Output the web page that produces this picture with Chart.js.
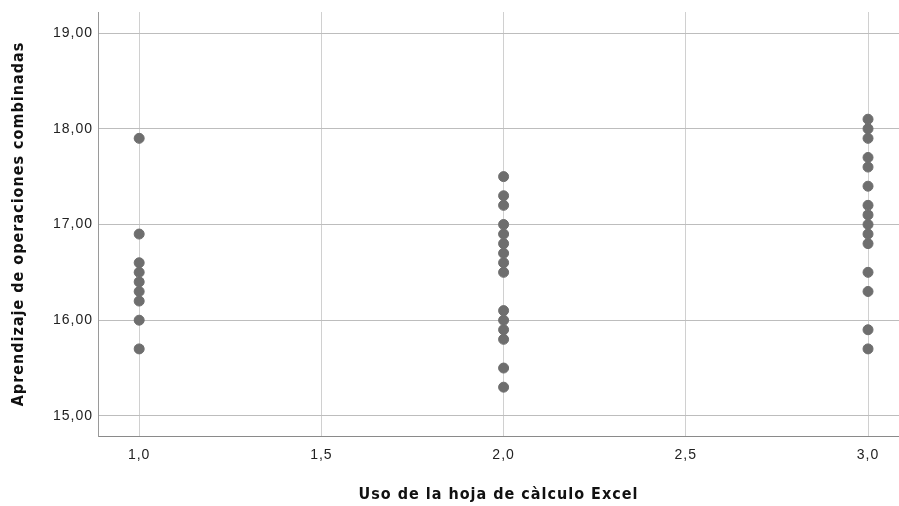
<!DOCTYPE html>
<html>
<head>
<meta charset="utf-8">
<script src="https://cdn.jsdelivr.net/npm/chart.js@4"></script>
<style>
  html, body { margin: 0; padding: 0; background: #fff; }
  #wrap { width: 899px; height: 506px; }
</style>
</head>
<body>
<div id="wrap"><canvas id="myScatter"></canvas></div>
<script>
// values
const excelLevels = [1, 2, 3];
const group1 = [17.9, 16.9, 16.6, 16.5, 16.4, 16.3, 16.2, 16.0, 15.7];
const group2 = [17.5, 17.3, 17.2, 17.0, 16.9, 16.8, 16.7, 16.6, 16.5, 16.1, 16.0, 15.9, 15.8, 15.5, 15.3];
const group3 = [18.1, 18.0, 17.9, 17.7, 17.6, 17.4, 17.2, 17.1, 17.0, 16.9, 16.8, 16.5, 16.3, 15.9, 15.7];
const yTicks = [15, 16, 17, 18, 19];
const xTicks = [1.0, 1.5, 2.0, 2.5, 3.0];

const groups = [group1, group2, group3];
const points = [];
groups.forEach((vals, i) => {
  vals.forEach(v => points.push({ x: excelLevels[i], y: v }));
});

const titleFont = { family: "'Liberation Sans Narrow', 'DejaVu Sans Condensed', Arial", size: 16, weight: 'bold' };
const tickFont = { family: "'Liberation Sans', Arial", size: 14 };

// the reference text is a bit spaced out
const spacing = {
  id: 'spacing',
  beforeDraw: chart => { chart.ctx.letterSpacing = '1px'; }
};

const ctx = document.getElementById('myScatter').getContext('2d');
const myScatter = new Chart(ctx, {
  type: 'scatter',
  data: {
    datasets: [{
      data: points,
      backgroundColor: '#6e6e6e',
      borderColor: '#6e6e6e',
      pointRadius: 5,
      pointHoverRadius: 5
    }]
  },
  options: {
    responsive: true,
    maintainAspectRatio: false,
    animation: false,
    layout: { autoPadding: false, padding: { top: 12, right: 0, left: 0, bottom: 0 } },
    plugins: {
      legend: { display: false },
      tooltip: { enabled: false }
    },
    scales: {
      x: {
        type: 'linear',
        min: 0.887,
        max: 3.085,
        afterBuildTicks: axis => { axis.ticks = xTicks.map(v => ({ value: v })); },
        afterFit: axis => { axis.height = 70; axis.paddingLeft = 0; axis.paddingRight = 0; },
        ticks: {
          color: '#222',
          font: tickFont,
          padding: 11,
          callback: v => v.toFixed(1).replace('.', ',')
        },
        grid: { color: '#d0d0d0', tickLength: 0 },
        border: { color: '#8a8a8a' },
        title: {
          display: true,
          text: 'Uso de la hoja de càlculo Excel',
          color: '#111',
          font: titleFont,
          padding: { top: 0, bottom: 2 }
        }
      },
      y: {
        min: 14.79,
        max: 19.22,
        afterBuildTicks: axis => { axis.ticks = yTicks.map(v => ({ value: v })); },
        afterFit: axis => { axis.width = 98; axis.paddingTop = 0; axis.paddingBottom = 0; },
        ticks: {
          color: '#222',
          font: tickFont,
          padding: 5,
          callback: v => v.toFixed(2).replace('.', ',')
        },
        grid: { color: '#bdbdbd', tickLength: 0 },
        border: { color: '#9a9a9a' },
        title: {
          display: true,
          text: 'Aprendizaje de operaciones combinadas',
          color: '#111',
          font: titleFont,
          padding: { top: 9, bottom: 0 }
        }
      }
    }
  },
  plugins: [spacing]
});
</script>
</body>
</html>
